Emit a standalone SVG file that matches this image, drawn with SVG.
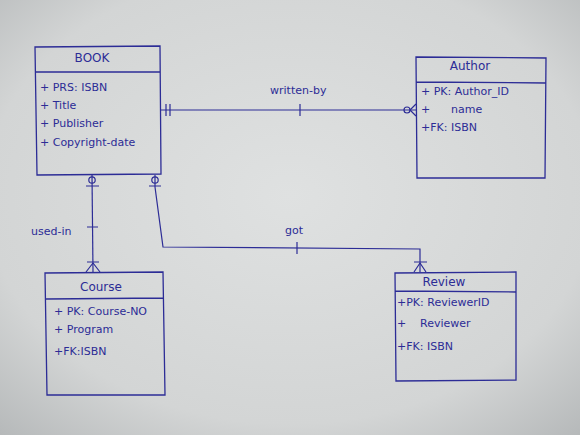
<svg xmlns="http://www.w3.org/2000/svg" width="580" height="435" viewBox="0 0 580 435">
<defs>
<radialGradient id="bg" cx="50%" cy="45%" r="75%">
<stop offset="0" stop-color="#dfe1e1"/>
<stop offset="0.7" stop-color="#d3d5d5"/>
<stop offset="1" stop-color="#b5b8b9"/>
</radialGradient>
<style>
.box{fill:none;stroke:#2c2c96;stroke-width:1.3}
.ln{fill:none;stroke:#2c2c96;stroke-width:1.2}
.t{font-family:"DejaVu Sans",sans-serif;font-size:11px;fill:#2c2c96}
.h{font-family:"DejaVu Sans",sans-serif;font-size:12px;fill:#2c2c96;text-anchor:middle}
</style>
</defs>
<rect width="580" height="435" fill="url(#bg)"/>
<g id="book">
<path class="box" d="M35,47 L160,46 L161,174 L37,175 Z M36,72 L160,72"/>
<text class="h" x="92" y="62">BOOK</text>
<text class="t" x="40" y="91">+ PRS: ISBN</text>
<text class="t" x="40" y="109">+ Title</text>
<text class="t" x="40" y="127">+ Publisher</text>
<text class="t" x="40" y="146">+ Copyright-date</text>
</g>
<g id="author">
<path class="box" d="M416,57 L546,58 L545,178 L417,178 Z M416,82 L546,83"/>
<text class="h" x="470" y="70">Author</text>
<text class="t" x="421" y="95">+ PK: Author_ID</text>
<text class="t" x="421" y="113">+<tspan x="451">name</tspan></text>
<text class="t" x="421" y="131">+FK: ISBN</text>
</g>
<g id="course">
<path class="box" d="M45,273 L163,272 L165,395 L47,395 Z M46,299 L164,298"/>
<text class="h" x="101" y="291">Course</text>
<text class="t" x="54" y="315">+ PK: Course-NO</text>
<text class="t" x="54" y="333">+ Program</text>
<text class="t" x="54" y="355">+FK:ISBN</text>
</g>
<g id="review">
<path class="box" d="M395,273 L516,272 L516,380 L396,381 Z M395,291 L516,292"/>
<text class="h" x="444" y="286">Review</text>
<text class="t" x="397" y="306">+PK: ReviewerID</text>
<text class="t" x="397" y="327">+<tspan x="420">Reviewer</tspan></text>
<text class="t" x="397" y="350">+FK: ISBN</text>
</g>
<g id="connectors">
<path class="ln" d="M161,110 L416,110"/>
<path class="ln" d="M166,104 L166,116 M170,104 L170,116 M300,104 L300,116"/>
<circle class="ln" cx="407" cy="110" r="3"/>
<path class="ln" d="M410,110 L416,104 M410,110 L416,116"/>
<text class="t" x="270" y="94">written-by</text>
<path class="ln" d="M92,175 L93,272"/>
<circle class="ln" cx="92" cy="180" r="3.2"/>
<path class="ln" d="M86,186 L99,186 M87,227 L98,227 M87,262 L99,262"/>
<path class="ln" d="M93,263 L86,272 M93,263 L100,272"/>
<text class="t" x="31" y="235">used-in</text>
<path class="ln" d="M155,175 L155,187 L163,247 L420,249 L420,272"/>
<circle class="ln" cx="155" cy="180" r="3.2"/>
<path class="ln" d="M149,186 L161,186 M297,242 L297,254 M414,262 L427,262"/>
<path class="ln" d="M420,263 L414,272 M420,263 L426,272"/>
<text class="t" x="285" y="234">got</text>
</g>
</svg>
